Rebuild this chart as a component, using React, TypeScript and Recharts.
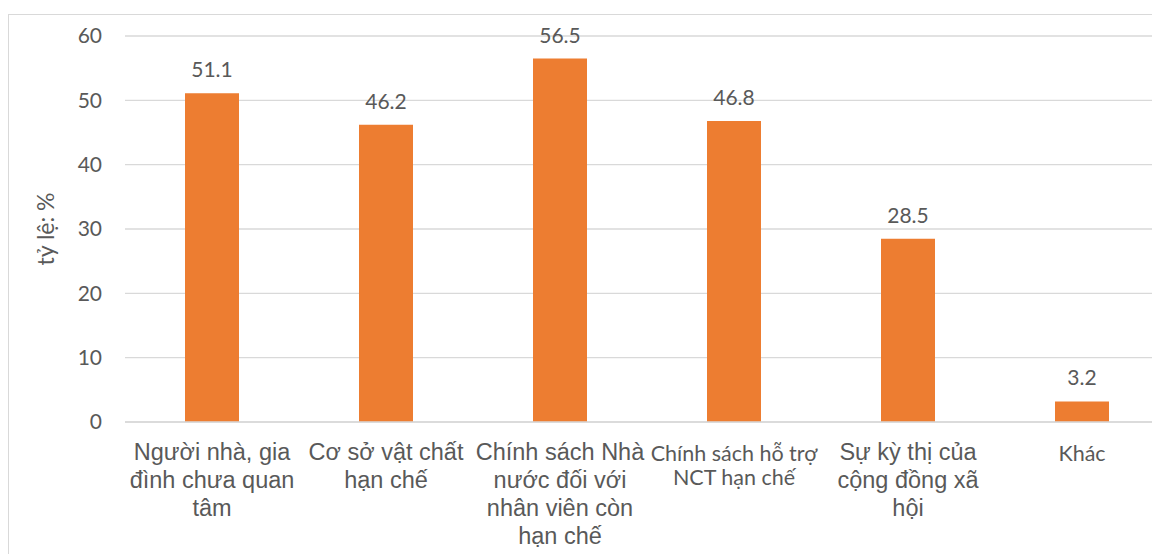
import { Bar, BarChart, CartesianGrid, LabelList, XAxis, YAxis } from "recharts"

const categories = [
  "Người nhà, gia đình chưa quan tâm",
  "Cơ sở vật chất hạn chế",
  "Chính sách Nhà nước đối với nhân viên còn hạn chế",
  "Chính sách hỗ trợ NCT hạn chế",
  "Sự kỳ thị của cộng đồng xã hội",
  "Khác",
]

const values = [51.1, 46.2, 56.5, 46.8, 28.5, 3.2]

const tickLines = [
  ["Người nhà, gia", "đình chưa quan", "tâm"],
  ["Cơ sở vật chất", "hạn chế"],
  ["Chính sách Nhà", "nước đối với", "nhân viên còn", "hạn chế"],
  ["Chính sách hỗ trợ", "NCT hạn chế"],
  ["Sự kỳ thị của", "cộng đồng xã", "hội"],
  ["Khác"],
]

const yTicks = [0, 10, 20, 30, 40, 50, 60]

const data = categories.map((name, i) => ({ name, value: values[i], idx: i }))

const TEXT = "#595959"
const GRID = "#D9D9D9"

function CategoryTick(props: any) {
  const { x, y, index } = props
  const lines = tickLines[index] || []
  // two of the labels use a smaller, narrower face in the original
  const small = index === 3 || index === 5
  const size = small ? 21.5 : 23.5
  const lh = small ? 24 : 28
  const first = small ? 39 : 38
  const family = small ? "Lato, sans-serif" : "'Liberation Sans', Arial, sans-serif"
  return (
    <text
      x={x}
      y={y}
      textAnchor="middle"
      fill={TEXT}
      fontSize={size}
      style={{ fontFamily: family }}
    >
      {lines.map((l, i) => (
        <tspan key={i} x={x} y={y + first + i * lh}>
          {l}
        </tspan>
      ))}
    </text>
  )
}

function AxisTitle(props: any) {
  const vb = props.viewBox || { x: 0, y: 0, height: 0 }
  const cx = vb.x + 36
  const cy = vb.y + vb.height / 2
  return (
    <text
      x={cx}
      y={cy}
      transform={`rotate(-90 ${cx} ${cy})`}
      textAnchor="middle"
      dominantBaseline="central"
      fill={TEXT}
      fontSize={23}
      style={{ fontFamily: "Lato, sans-serif" }}
    >
      tỷ lệ: %
    </text>
  )
}

export default function App() {
  return (
    <div style={{ position: "relative", width: 1152, height: 546, overflow: "hidden" }}>
      <div
        style={{
          position: "absolute",
          top: 6,
          left: 0,
          width: 1200,
          height: 600,
          borderTop: `1px solid ${GRID}`,
          borderLeft: `1px solid ${GRID}`,
        }}
      >
        <BarChart
          width={1180}
          height={560}
          data={data}
          margin={{ top: 21, right: 20, bottom: 23, left: 0 }}
        >
          <CartesianGrid vertical={false} stroke={GRID} strokeWidth={1.4} />
          <XAxis
            dataKey="name"
            interval={0}
            height={130}
            tickLine={false}
            tickSize={0}
            tickMargin={0}
            axisLine={{ stroke: GRID, strokeWidth: 1.4 }}
            tick={<CategoryTick />}
          />
          <YAxis
            width={116}
            domain={[0, 60]}
            ticks={yTicks}
            tickLine={false}
            axisLine={false}
            tickSize={0}
            tickMargin={23}
            tick={{ fill: TEXT, fontSize: 21, fontFamily: "Lato, sans-serif" }}
            label={{ content: <AxisTitle /> }}
          />
          <Bar dataKey="value" fill="#ED7D31" barSize={54} isAnimationActive={false}>
            <LabelList
              dataKey="value"
              position="top"
              offset={16}
              fill={TEXT}
              fontSize={21}
              fontFamily="Lato, sans-serif"
            />
          </Bar>
        </BarChart>
      </div>
    </div>
  )
}
